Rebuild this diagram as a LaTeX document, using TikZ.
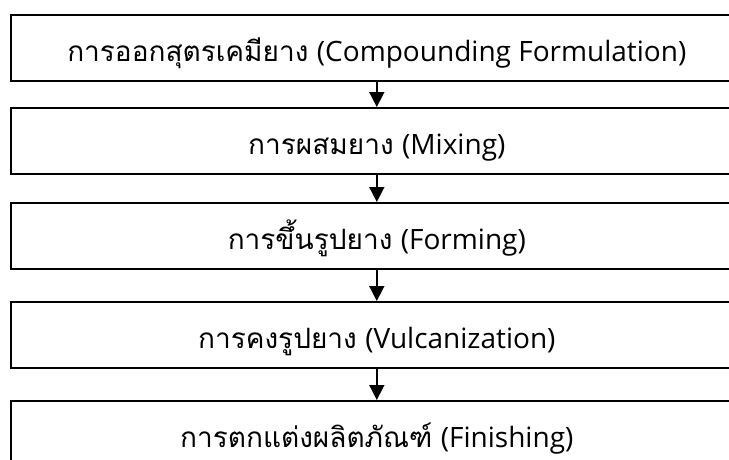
\documentclass[tikz,border=0pt]{standalone}
\usepackage{fontspec}
\newfontfamily\thaifont[Script=Thai]{Loma}
\newfontfamily\latfont{Open Sans}
\usetikzlibrary{arrows.meta}
\tikzset{
  stepbox/.style={draw=black, line width=1.6pt, minimum width=732pt, minimum height=66pt,
    inner sep=0pt, text height=28pt, text depth=0pt, anchor=north west, fill=white},
  flowarrow/.style={line width=1.6pt, -{Triangle[width=15pt,length=15pt]}}
}
\newcommand{\tline}[2]{{\thaifont #1} {\latfont #2}}
\begin{document}
\begin{tikzpicture}[x=1pt,y=-1pt,font=\fontsize{28pt}{32pt}\selectfont]
\useasboundingbox (0,0) rectangle (729,459);
\node[stepbox] (b1) at (10,14) {\tline{การออกสุตรเคมียาง}{(Compounding Formulation)}};
\node[stepbox] (b2) at (10,107) {\tline{การผสมยาง}{(Mixing)}};
\node[stepbox] (b3) at (10,202) {\tline{การขึ้นรูปยาง}{(Forming)}};
\node[stepbox] (b4) at (10,301) {\tline{การคงรูปยาง}{(Vulcanization)}};
\node[stepbox] (b5) at (10,400) {\tline{การตกแต่งผลิตภัณฑ์}{(Finishing)}};
\draw[flowarrow] (b1.south) -- (b2.north);
\draw[flowarrow] (b2.south) -- (b3.north);
\draw[flowarrow] (b3.south) -- (b4.north);
\draw[flowarrow] (b4.south) -- (b5.north);
\end{tikzpicture}
\end{document}
